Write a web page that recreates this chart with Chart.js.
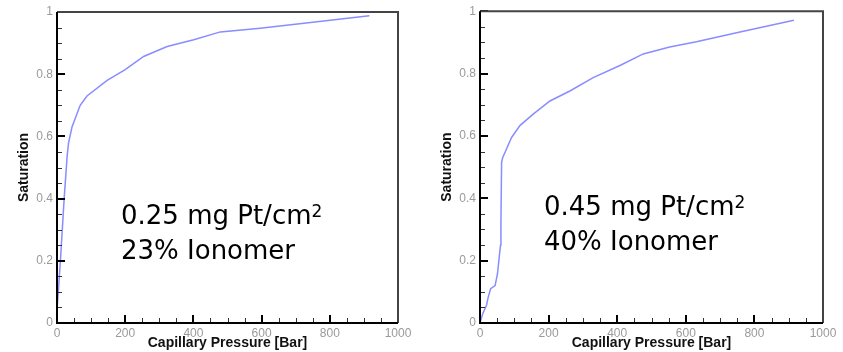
<!DOCTYPE html>
<html lang="en">
<head>
    <meta charset="UTF-8">
    <title>Capillary Pressure vs Saturation</title>
    <style>
        body {
            margin: 0;
            background: #fff;
            width: 843px;
            height: 352px;
            overflow: hidden;
            position: relative;
        }
        .panel {
            position: absolute;
            top: 0;
            height: 352px;
        }
        .note {
            position: absolute;
            font-family: "DejaVu Sans", Verdana, sans-serif;
            font-size: 26px;
            line-height: 32px;
            color: #000;
            white-space: nowrap;
        }
        .note span {
            font-size: 17px;
            position: relative;
            top: -7px;
        }
    </style>
</head>
<body>
    <div class="panel" style="left:0;width:420px;">
        <canvas id="lowChart" width="420" height="352"></canvas>
    </div>
    <div class="panel" style="left:420px;width:423px;">
        <canvas id="highChart" width="423" height="352"></canvas>
    </div>
    <div class="note" style="left:121px;top:199px;">0.25 mg Pt/cm<span>2</span><br>23% Ionomer</div>
    <div class="note" style="left:544px;top:190px;">0.45 mg Pt/cm<span>2</span><br>40% Ionomer</div>

    <script src="https://cdn.jsdelivr.net/npm/chart.js"></script>
    <script>
        // 0.25 mg Pt/cm2, 23% ionomer
        const lowPressure = [0, 5, 10, 21, 30, 34, 44, 68, 88, 147, 200, 254, 323, 401, 479, 596, 750, 916];
        const lowSaturation = [0.04, 0.12, 0.2, 0.4, 0.54, 0.58, 0.63, 0.70, 0.73, 0.78, 0.815, 0.857, 0.889, 0.911, 0.936, 0.948, 0.967, 0.988];

        // 0.45 mg Pt/cm2, 40% ionomer
        const highPressure = [0, 8, 19, 24, 31, 44, 51, 58, 60, 61, 63, 66, 76, 92, 117, 155, 204, 262, 330, 408, 476, 553, 631, 748, 835, 915];
        const highSaturation = [0, 0.03, 0.057, 0.083, 0.11, 0.12, 0.158, 0.232, 0.25, 0.323, 0.515, 0.53, 0.555, 0.595, 0.634, 0.67, 0.712, 0.744, 0.787, 0.826, 0.863, 0.885, 0.902, 0.931, 0.952, 0.971];

        const xTitle = 'Capillary Pressure [Bar]';
        const yTitle = 'Saturation';

        // inward tick marks and the box around the plot
        const frame = {
            id: 'plotFrame',
            afterDraw(chart) {
                const ctx = chart.ctx;
                const a = chart.chartArea;
                const x = chart.scales.x;
                const y = chart.scales.y;
                ctx.save();
                for (let v = 0; v <= 1000; v += 50) {
                    const major = v % 200 === 0;
                    const px = Math.round(x.getPixelForValue(v));
                    ctx.fillStyle = major ? '#000' : '#333';
                    if (major) ctx.fillRect(px - 1, a.bottom - 8, 2, 8);
                    else ctx.fillRect(px, a.bottom - 5, 1, 5);
                }
                for (let i = 0; i <= 20; i++) {
                    const major = i % 4 === 0;
                    const py = Math.round(y.getPixelForValue(i / 20));
                    ctx.fillStyle = major ? '#000' : '#333';
                    if (major) ctx.fillRect(a.left, py - 1, 8, 2);
                    else ctx.fillRect(a.left, py, 5, 1);
                }
                ctx.strokeStyle = '#444';
                ctx.lineWidth = 2;
                ctx.beginPath();
                ctx.moveTo(a.left, a.top);
                ctx.lineTo(a.right, a.top);
                ctx.lineTo(a.right, a.bottom);
                ctx.stroke();
                ctx.strokeStyle = '#000';
                ctx.beginPath();
                ctx.moveTo(a.left, a.top);
                ctx.lineTo(a.left, a.bottom);
                ctx.lineTo(a.right, a.bottom);
                ctx.stroke();
                ctx.restore();
            }
        };

        function makeChart(id, xs, ys, box) {
            const ctx = document.getElementById(id).getContext('2d');
            return new Chart(ctx, {
                type: 'line',
                data: {
                    datasets: [{
                        data: xs.map((v, i) => ({x: v, y: ys[i]})),
                        borderColor: '#8a8cff',
                        borderWidth: 1.5,
                        pointRadius: 0,
                        tension: 0,
                        fill: false
                    }]
                },
                options: {
                    responsive: false,
                    animation: false,
                    devicePixelRatio: 1,
                    layout: {
                        padding: {left: 0, top: box.top, right: box.right, bottom: 0}
                    },
                    plugins: {
                        legend: {display: false},
                        tooltip: {enabled: false}
                    },
                    scales: {
                        x: {
                            type: 'linear',
                            min: 0,
                            max: 1000,
                            grid: {display: false, drawTicks: false},
                            border: {display: false},
                            ticks: {
                                stepSize: 200,
                                autoSkip: false,
                                maxRotation: 0,
                                padding: 3,
                                color: '#9a9a9a',
                                font: {family: 'Liberation Sans', size: 12},
                                callback: v => String(v)
                            },
                            title: {
                                display: true,
                                text: xTitle,
                                color: '#111',
                                padding: {top: 0, bottom: 0},
                                font: {family: 'Liberation Sans', size: 14, weight: 'bold'}
                            },
                            afterFit(scale) { scale.height = 29; }
                        },
                        y: {
                            min: 0,
                            max: 1,
                            grid: {display: false, drawTicks: false},
                            border: {display: false},
                            ticks: {
                                stepSize: 0.2,
                                autoSkip: false,
                                padding: 4,
                                color: '#9a9a9a',
                                font: {family: 'Liberation Sans', size: 12},
                                callback: v => String(Math.round(v * 10) / 10)
                            },
                            title: {
                                display: true,
                                text: yTitle,
                                color: '#111',
                                padding: {top: box.titlePad, bottom: 0},
                                font: {family: 'Liberation Sans', size: 14, weight: 'bold'}
                            },
                            afterFit(scale) { scale.width = box.left; }
                        }
                    }
                },
                plugins: [frame]
            });
        }

        makeChart('lowChart', lowPressure, lowSaturation, {left: 57, top: 12, right: 22, titlePad: 16});
        makeChart('highChart', highPressure, highSaturation, {left: 60, top: 10, right: 20, titlePad: 19});
    </script>
</body>
</html>
